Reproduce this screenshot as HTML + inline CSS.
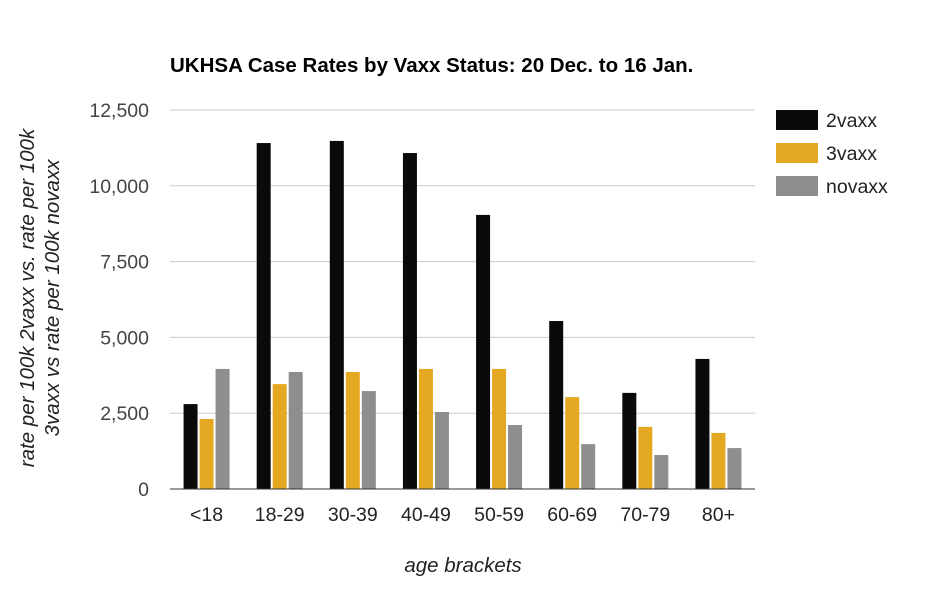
<!DOCTYPE html>
<html><head><meta charset="utf-8"><style>
body{margin:0;background:#fff;font-family:"Liberation Sans",Arial,sans-serif}
</style></head><body>
<svg id="chart" width="932" height="600" xmlns="http://www.w3.org/2000/svg" font-family="Liberation Sans, Arial, sans-serif">
<rect width="932" height="600" fill="#fff"/>
<text x="170" y="72" font-size="20.5" font-weight="bold" fill="#000">UKHSA Case Rates by Vaxx Status: 20 Dec. to 16 Jan.</text>
<g id="grid"></g><g id="bars"></g><g id="xl"></g>
<line x1="170" y1="489" x2="755" y2="489" stroke="#333" stroke-width="1"/>
<text x="463" y="572" font-size="20.5" font-style="italic" text-anchor="middle" fill="#222">age brackets</text>
<g transform="translate(34,298) rotate(-90)">
<text x="0" y="0" font-size="20.5" font-style="italic" text-anchor="middle" fill="#222">rate per 100k 2vaxx vs. rate per 100k</text>
<text x="0" y="25" font-size="20.5" font-style="italic" text-anchor="middle" fill="#222">3vaxx vs rate per 100k novaxx</text>
</g>
<g id="legend"></g>
</svg>
<script>
const categories=["<18","18-29","30-39","40-49","50-59","60-69","70-79","80+"];
const vaxx2=[2800,11410,11480,11080,9040,5540,3170,4290];
const vaxx3=[2310,3460,3860,3960,3960,3030,2050,1850];
const novaxx=[3960,3860,3230,2540,2110,1480,1120,1350];
const yTicks=[0,2500,5000,7500,10000,12500];
const seriesNames=["2vaxx","3vaxx","novaxx"];
const colors=["#0a0a0a","#e5a823","#8e8e8e"];
const NS="http://www.w3.org/2000/svg";
const x0=170,x1=755,y0=489,yTop=110,yMax=12500;
const y=v=>y0-(v/yMax)*(y0-yTop);
const gw=(x1-x0)/categories.length;
const gx=i=>x0+gw*(i+0.5);
function mk(t,a,p){const e=document.createElementNS(NS,t);for(const k in a)e.setAttribute(k,a[k]);p.appendChild(e);return e;}
const grid=document.getElementById('grid');
yTicks.forEach(t=>{
 if(t>0){const l=mk('line',{x1:x0,x2:x1,y1:y(t),y2:y(t),stroke:'#ccc','stroke-width':1},grid);
 
 }
 const tx=mk('text',{x:149,y:y(t)+7,'font-size':19.5,'text-anchor':'end',fill:'#444'},grid);
 tx.textContent=t.toLocaleString('en-US');
 
 
});
const bars=document.getElementById('bars'),xl=document.getElementById('xl');
const series=[vaxx2,vaxx3,novaxx];
const bw=14,gap=2;
categories.forEach((c,i)=>{
 series.forEach((s,j)=>{
  const bx=gx(i)-(3*bw+2*gap)/2+j*(bw+gap);
  const r=mk('rect',{x:bx,y:y(s[i]),width:bw,height:y0-y(s[i]),fill:colors[j]},bars);
  
  
 });
 const t=mk('text',{x:gx(i),y:521,'font-size':19.5,'text-anchor':'middle',fill:'#222'},xl);
 t.textContent=c;
 
 
});
const lg=document.getElementById('legend');
seriesNames.forEach((n,j)=>{
 const g=mk('g',{},lg);
 
 
 mk('rect',{x:776,y:110+j*33,width:42,height:20,fill:colors[j]},g);
 const t=mk('text',{x:826,y:127+j*33,'font-size':19.5,fill:'#222'},g);
 t.textContent=n;
});
</script>
</body></html>
